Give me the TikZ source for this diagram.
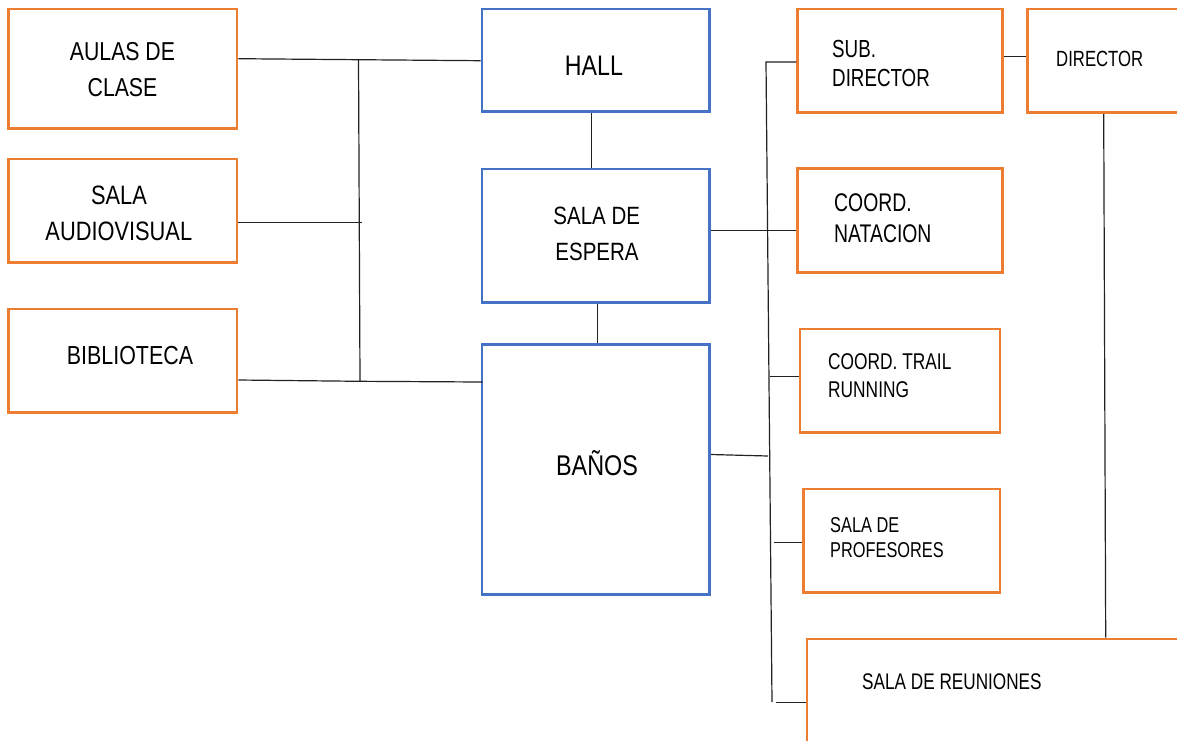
\documentclass[tikz,border=0pt]{standalone}
\usepackage{fontspec}
\setmainfont[FakeStretch=0.82]{Liberation Sans}
\newfontfamily\rfont[FakeStretch=0.76]{Liberation Sans}
\newcommand\setfs[1]{\fontsize{#1}{#1}\selectfont}
\definecolor{boxorange}{HTML}{ED7D31}
\definecolor{boxblue}{HTML}{4472C4}
\definecolor{linegray}{HTML}{222222}
\begin{document}
\begin{tikzpicture}[x=1pt,y=-1pt,
  obox/.style={draw=boxorange,line width=2.8pt,rectangle,inner sep=0pt,fill=none},
  bbox/.style={draw=boxblue,line width=2.8pt,rectangle,inner sep=0pt,fill=none},
  conn/.style={draw=linegray,line width=1.2pt},
  tc/.style={inner sep=0pt,anchor=base,text=black},
  tl/.style={inner sep=0pt,anchor=base west,text=black}]
\useasboundingbox (0,0) rectangle (1177,740);
\fill[white] (0,0) rectangle (1177,740);

% boxes
\node[obox,minimum width=228.7pt,minimum height=119.3pt] (aulas) at (122.6,68.7) {};
\node[obox,minimum width=228.7pt,minimum height=103.3pt] (audio) at (122.6,210.7) {};
\node[obox,minimum width=228.7pt,minimum height=103.3pt] (biblio) at (122.6,360.7) {};
\node[bbox,minimum width=227.7pt,minimum height=102.7pt] (hall) at (595.8,60.4) {};
\node[bbox,minimum width=227.7pt,minimum height=133.3pt] (espera) at (595.8,235.7) {};
\node[bbox,minimum width=227.7pt,minimum height=250pt] (banos) at (595.8,469.3) {};
\node[obox,minimum width=204.6pt,minimum height=103.7pt] (subdir) at (900,60.8) {};
\node[obox,minimum width=167.3pt,minimum height=103.7pt] (director) at (1111.4,60.8) {};
\node[obox,minimum width=204.6pt,minimum height=104.4pt] (natacion) at (900,220.5) {};
\node[obox,minimum width=200pt,minimum height=103.3pt] (trail) at (900,380.7) {};
\node[obox,minimum width=196.3pt,minimum height=103.7pt] (prof) at (901.8,540.8) {};
\node[obox,minimum width=388pt,minimum height=121pt] (reun) at (1001,699.5) {};

% texts
\node[tc,font=\setfs{25.9}] (t-aulas1) at (122.5,60) {AULAS DE};
\node[tc,font=\setfs{25.9}] (t-aulas2) at (122.5,96.5) {CLASE};
\node[tc,font=\setfs{26.6}] (t-audio1) at (119,204) {SALA};
\node[tc,font=\setfs{26.6}] (t-audio2) at (118.8,240) {AUDIOVISUAL};
\node[tc,font=\setfs{26.1}] (t-biblio) at (130,364) {BIBLIOTECA};
\node[tc,font=\setfs{28.3}] (t-hall) at (594,75) {HALL};
\node[tc,font=\setfs{25}] (t-espera1) at (596.7,224) {SALA DE};
\node[tc,font=\setfs{25}] (t-espera2) at (597,260) {ESPERA};
\node[tc,font=\setfs{28.5}] (t-banos) at (597,475) {BAÑOS};
\node[tl,font=\rfont\setfs{24.7}] (t-subdir1) at (832,57) {SUB.};
\node[tl,font=\rfont\setfs{24.7}] (t-subdir2) at (832,86) {DIRECTOR};
\node[tl,font=\rfont\setfs{22}] (t-director) at (1056,66) {DIRECTOR};
\node[tl,font=\rfont\setfs{25.5}] (t-nat1) at (834,211) {COORD.};
\node[tl,font=\rfont\setfs{25.5}] (t-nat2) at (834,242) {NATACION};
\node[tl,font=\rfont\setfs{22.8}] (t-trail1) at (828,369) {COORD. TRAIL};
\node[tl,font=\rfont\setfs{22.8}] (t-trail2) at (828,397) {RUNNING};
\node[tl,font=\rfont\setfs{21.5}] (t-prof1) at (830,532) {SALA DE};
\node[tl,font=\rfont\setfs{21.5}] (t-prof2) at (830,557) {PROFESORES};
\node[tl,font=\rfont\setfs{22.6}] (t-reun) at (862,689) {SALA DE REUNIONES};

% junction coordinates
\coordinate (busLt) at (358.5,59.7);
\coordinate (busLm) at (361.7,222.3);
\coordinate (busLb) at (360,381.3);
\coordinate (busRt) at (766,62);
\coordinate (busRb) at (772,702);
\coordinate (busRbanos) at (768,456);
\coordinate (busRtrail) at (770,376.7);
\coordinate (busRprof) at (774,542.3);
\coordinate (busRreun) at (776,702.3);

% connectors left
\draw[conn] (aulas.east |- 0,58.7) -- (busLt) -- (hall.west |- 0,60.7);
\draw[conn] (busLt) -- (busLb);
\draw[conn] (audio.east |- 0,222.3) -- (busLm);
\draw[conn] (biblio.east |- 0,380) -- (busLb) -- ([xshift=2pt]banos.west |- 0,382);
% centre column
\draw[conn] (591.7,0 |- hall.south) -- (591.7,0 |- espera.north);
\draw[conn] (597.7,0 |- espera.south) -- (597.7,0 |- banos.north);
\draw[conn] (espera.east |- 0,230.4) -- (natacion.west |- 0,230.4);
\draw[conn] (banos.east |- 0,454.5) -- (busRbanos);
% right bus
\draw[conn] (subdir.west |- 0,62) -- (busRt) -- (busRb);
\draw[conn] (busRtrail) -- (trail.west |- 0,376.7);
\draw[conn] (busRprof) -- (prof.west |- 0,542.3);
\draw[conn] (busRreun) -- (reun.west |- 0,702.3);
\draw[conn] (subdir.east |- 0,56.7) -- (director.west |- 0,56.7);
\draw[conn] (1103.7,0 |- director.south) -- (1105.7,0 |- reun.north);
\end{tikzpicture}
\end{document}
